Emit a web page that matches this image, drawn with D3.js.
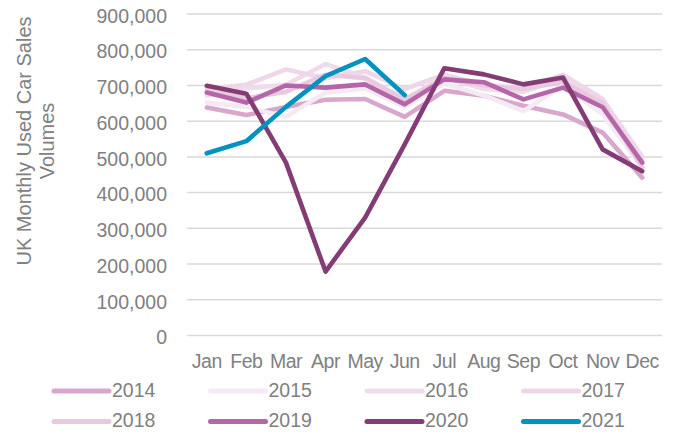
<!doctype html>
<html lang=en>

<head>
  <meta charset=utf-8>
  <title>UK Monthly Used Car Sales</title>
  <style>
    body { margin: 0; background: #fff; }
    text { font-family: "Liberation Sans", Arial, sans-serif; fill: #808080; }
  </style>
</head>

<body>
  <svg></svg>
  <script src="https://cdn.jsdelivr.net/npm/d3@7"></script>
  <script>
    var months = ["Jan", "Feb", "Mar", "Apr", "May", "Jun", "Jul", "Aug", "Sep", "Oct", "Nov", "Dec"];
    var yTicks = [0, 100000, 200000, 300000, 400000, 500000, 600000, 700000, 800000, 900000];

    var years = ["2014", "2015", "2016", "2017", "2018", "2019", "2020", "2021"];
    var colours = ["#d8a7cc", "#f5eaf3", "#f0dbeb", "#efd7e9", "#e9c9e0", "#b566a8", "#833c74", "#0093bf"];

    var s2014 = [638000, 617000, 640000, 660000, 662000, 612000, 685000, 671000, 643000, 619000, 568000, 442000];
    var s2015 = [652000, 640000, 612000, 680000, 692000, 640000, 705000, 672000, 628000, 700000, 620000, 470000];
    var s2016 = [672000, 692000, 702000, 760000, 722000, 662000, 722000, 690000, 682000, 722000, 642000, 490000];
    var s2017 = [690000, 702000, 745000, 720000, 740000, 690000, 730000, 702000, 690000, 730000, 662000, 500000];
    var s2018 = [684000, 665000, 682000, 730000, 720000, 660000, 720000, 700000, 690000, 710000, 650000, 470000];
    var s2019 = [680000, 652000, 700000, 694000, 703000, 647000, 717000, 709000, 661000, 694000, 639000, 484000];
    var s2020 = [699000, 677000, 484000, 179000, 330000, 535000, 748000, 731000, 703000, 722000, 521000, 460000];
    var s2021 = [510000, 544000, 640000, 726000, 774000, 673000];

    var seriesValues = [s2014, s2015, s2016, s2017, s2018, s2019, s2020, s2021];

    var width = 678;
    var height = 436;

    var svg = d3.select("svg")
      .attr("width", width)
      .attr("height", height);

    var x = d3.scaleBand()
      .domain(months)
      .range([187, 662]);

    var y = d3.scaleLinear()
      .domain([0, 900000])
      .range([335.5, 14]);

    var fmt = d3.format(",");

    // gridlines
    svg.append("g")
      .selectAll("line")
      .data(yTicks)
      .join("line")
      .attr("x1", 187)
      .attr("x2", 662)
      .attr("y1", function (d) { return y(d); })
      .attr("y2", function (d) { return y(d); })
      .style("stroke", "#d9d9d9")
      .style("stroke-width", "1.5px");

    // y tick labels
    svg.append("g")
      .selectAll("text")
      .data(yTicks)
      .join("text")
      .attr("x", 167)
      .attr("y", function (d) { return y(d); })
      .attr("dy", "0.45em")
      .attr("text-anchor", "end")
      .style("font-size", "19.5px")
      .text(function (d) { return fmt(d); });

    // x labels
    svg.append("g")
      .selectAll("text")
      .data(months)
      .join("text")
      .attr("x", function (d) { return x(d) + x.bandwidth() / 2; })
      .attr("y", 367.5)
      .attr("text-anchor", "middle")
      .style("font-size", "19.5px")
      .style("letter-spacing", "-0.5px")
      .text(function (d) { return d; });

    // axis title
    var title = svg.append("text")
      .attr("transform", "translate(24,141) rotate(-90)")
      .attr("text-anchor", "middle")
      .style("font-size", "20px");
    title.append("tspan").attr("x", 0).attr("dy", "0.35em").text("UK Monthly Used Car Sales");
    title.append("tspan").attr("x", 0).attr("dy", "23").text("Volumes");

    var line = d3.line()
      .x(function (d, i) { return x(months[i]) + x.bandwidth() / 2; })
      .y(function (d) { return y(d); });

    svg.append("g")
      .selectAll("path")
      .data(seriesValues)
      .join("path")
      .attr("d", line)
      .style("fill", "none")
      .style("stroke", function (d, i) { return colours[i]; })
      .style("stroke-width", "4.6px")
      .style("stroke-linejoin", "round")
      .style("stroke-linecap", "round");

    // legend
    var legend = svg.append("g")
      .selectAll("g")
      .data(years)
      .join("g")
      .attr("transform", function (d, i) {
        return "translate(" + (54 + (i % 4) * 156.5) + "," + (391 + Math.floor(i / 4) * 30.5) + ")";
      });

    legend.append("line")
      .attr("x1", 0)
      .attr("x2", 55)
      .style("stroke", function (d, i) { return colours[i]; })
      .style("stroke-width", "5px")
      .style("stroke-linecap", "round");

    legend.append("text")
      .attr("x", 58)
      .attr("dy", "0.3em")
      .style("font-size", "19.5px")
      .text(function (d) { return d; });
  </script>
</body>

</html>
